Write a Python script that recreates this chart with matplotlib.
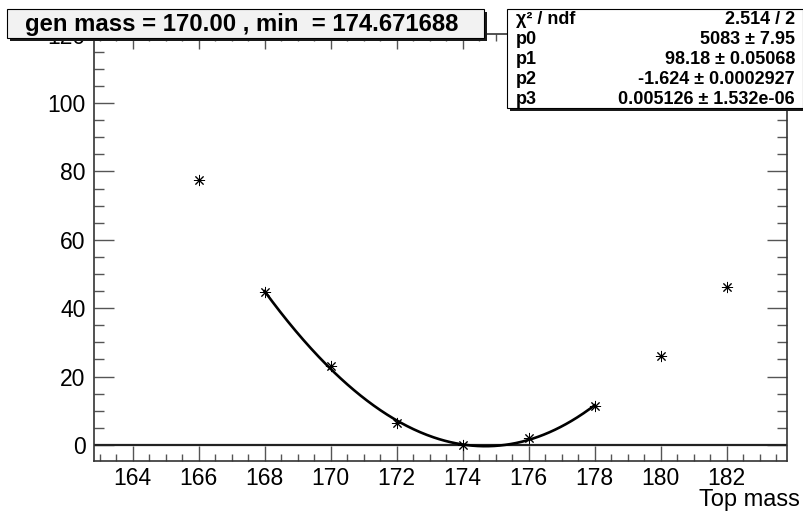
import numpy as np
import matplotlib
matplotlib.use('Agg')
import matplotlib.pyplot as plt
from matplotlib.patches import Rectangle
from matplotlib.ticker import MultipleLocator

plt.rcParams['font.family'] = ['Liberation Sans', 'DejaVu Sans']

# points
top_mass = np.array([166, 168, 170, 172, 174, 176, 178, 180, 182])
chi2 = np.array([77.5, 44.7, 23.1, 6.4, 0.0, 2.0, 11.4, 26.0, 46.2])
fit_lo, fit_hi = 168, 178

gen_mass = 170.00
fit_min = 174.671688

# stats box contents
chi2_val, ndf = 2.514, 2
par_names = ['p0', 'p1', 'p2', 'p3']
par_vals = [5083, 98.18, -1.624, 0.005126]
par_errs = [7.95, 0.05068, 0.0002927, 1.532e-06]

W, H = 804, 515
def fx(px):
    return px / W
def fy(py):
    return 1 - py / H

fig = plt.figure(figsize=(W / 100, H / 100), dpi=100)
ax = fig.add_axes([fx(94), fy(461), (787 - 94) / W, (461 - 34) / H])

# cubic fit over the fit window
sel = (top_mass >= fit_lo) & (top_mass <= fit_hi)
coef = np.polyfit(top_mass[sel], chi2[sel], 3)
xs = np.linspace(fit_lo, fit_hi, 300)
ax.plot(xs, np.polyval(coef, xs), color='black', lw=1.9, zorder=3)

ax.plot(top_mass, chi2, ls='none', marker=(8, 2, 0), ms=8, mew=0.7,
        color='black', zorder=4)

ax.axhline(0, color='#222222', lw=1.6, zorder=2)

ax.set_xlim(162.83, 183.83)
ax.set_ylim(-4.7, 120.2)
ax.xaxis.set_major_locator(MultipleLocator(2))
ax.xaxis.set_minor_locator(MultipleLocator(0.5))
ax.yaxis.set_major_locator(MultipleLocator(20))
ax.yaxis.set_minor_locator(MultipleLocator(5))

ax.tick_params(which='both', direction='in', top=True, right=True,
               color='#555555', width=1, labelsize=16.5)
ax.tick_params(axis='x', which='major', length=10.8, pad=4)
ax.tick_params(axis='x', which='minor', length=5)
ax.tick_params(axis='y', which='major', length=14.4, pad=6)
ax.tick_params(axis='y', which='minor', length=7.2)
for sp in ax.spines.values():
    sp.set_color('#333333')
    sp.set_linewidth(1.2)

fig.text(fx(800), fy(500), 'Top mass', ha='right', va='center', fontsize=17)

# title box with shadow
fig.add_artist(Rectangle((fx(10), fy(41)), fx(487) - fx(10), fy(12) - fy(41),
                         transform=fig.transFigure, facecolor='#1a1a1a',
                         edgecolor='none', zorder=5))
fig.add_artist(Rectangle((fx(7), fy(38)), fx(484) - fx(7), fy(9) - fy(38),
                         transform=fig.transFigure, facecolor='#f2f2f2',
                         edgecolor='black', lw=0.8, zorder=6))
fig.text(fx(25), fy(24), f'gen mass = {gen_mass:.2f} , min  = {fit_min:f}',
         ha='left', va='center', fontsize=17.2, fontweight='bold', zorder=7)

# stats box with shadow
fig.add_artist(Rectangle((fx(510), fy(111)), fx(806) - fx(510), fy(12) - fy(111),
                         transform=fig.transFigure, facecolor='#1a1a1a',
                         edgecolor='none', zorder=5))
fig.add_artist(Rectangle((fx(507), fy(108)), fx(803) - fx(507), fy(9) - fy(108),
                         transform=fig.transFigure, facecolor='white',
                         edgecolor='black', lw=0.8, zorder=6))
rows = [('χ² / ndf', f'{chi2_val:.4g} / {ndf}')]
for n, v, e in zip(par_names, par_vals, par_errs):
    rows.append((n, f'{v:.4g} ± {e:.4g}'))
for i, (lab, val) in enumerate(rows):
    y = fy(20 + 20 * i)
    fig.text(fx(516), y, lab, ha='left', va='center', fontsize=13,
             fontweight='bold', zorder=7)
    fig.text(fx(795), y, val, ha='right', va='center', fontsize=13,
             fontweight='bold', zorder=7)

fig.savefig('out.png', dpi=100)
